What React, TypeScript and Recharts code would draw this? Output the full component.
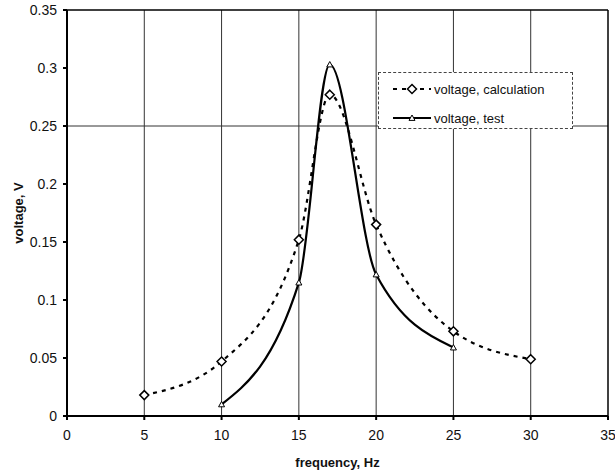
import React from 'react';
import { LineChart, Line, XAxis, YAxis, CartesianGrid, Label, ReferenceLine } from 'recharts';

// frequency (Hz) / voltage (V)
const calcFreq = [5, 10, 15, 17, 20, 25, 30];
const calcVolt = [0.018, 0.047, 0.152, 0.277, 0.165, 0.073, 0.049];
const testFreq = [10, 15, 17, 20, 25];
const testVolt = [0.01, 0.115, 0.303, 0.122, 0.059];

const xTicks = [0, 5, 10, 15, 20, 25, 30, 35];
const yTicks = [0, 0.05, 0.1, 0.15, 0.2, 0.25, 0.3, 0.35];
const seriesNames = ['voltage, calculation', 'voltage, test'];

const calcData = calcFreq.map((f, i) => ({ f, v: calcVolt[i] }));
const testData = testFreq.map((f, i) => ({ f, v: testVolt[i] }));

const FONT = '"Liberation Sans", Arial, sans-serif';

const Diamond = (props: any) => {
  const { cx, cy, index } = props;
  if (cx == null || cy == null) return <g key={index} />;
  const r = 4.5;
  return (
    <polygon
      key={index}
      points={`${cx},${cy - r} ${cx + r},${cy} ${cx},${cy + r} ${cx - r},${cy}`}
      fill="#fff"
      stroke="#000"
      strokeWidth={1.5}
    />
  );
};

const Triangle = (props: any) => {
  const { cx, cy, index } = props;
  if (cx == null || cy == null) return <g key={index} />;
  const r = 3;
  return (
    <polygon
      key={index}
      points={`${cx},${cy - r} ${cx + r},${cy + r * 0.8} ${cx - r},${cy + r * 0.8}`}
      fill="#fff"
      stroke="#000"
      strokeWidth={1}
    />
  );
};

// legend drawn as an overlay so it doesn't eat into the plot area
const LegendBox = () => (
  <div
    style={{
      position: 'absolute',
      left: 378,
      top: 72,
      width: 193,
      height: 55,
      background: '#fff',
      border: '1px dashed #444',
      fontFamily: FONT,
      fontSize: 13,
      color: '#111',
    }}
  >
    <div style={{ display: 'flex', alignItems: 'center', height: 16, marginTop: 8 }}>
      <svg width={40} height={12} style={{ marginLeft: 13 }}>
        <line x1={1} y1={6} x2={39} y2={6} stroke="#000" strokeWidth={2.2} strokeDasharray="4 5" />
        <polygon points="20,1.5 24.5,6 20,10.5 15.5,6" fill="#fff" stroke="#000" strokeWidth={1.5} />
      </svg>
      <span style={{ marginLeft: 2 }}>{seriesNames[0]}</span>
    </div>
    <div style={{ display: 'flex', alignItems: 'center', height: 16, marginTop: 13 }}>
      <svg width={40} height={12} style={{ marginLeft: 13 }}>
        <line x1={1} y1={6} x2={39} y2={6} stroke="#000" strokeWidth={2.2} />
        <polygon points="20,3 23,8.4 17,8.4" fill="#fff" stroke="#000" strokeWidth={1} />
      </svg>
      <span style={{ marginLeft: 2 }}>{seriesNames[1]}</span>
    </div>
  </div>
);

export default function App() {
  return (
    <div style={{ position: 'absolute', left: 0, top: 0, width: 615, height: 475, background: '#fff' }}>
      <LineChart width={615} height={475} margin={{ top: 10, right: 7, bottom: 0, left: 0 }}>
        <CartesianGrid
          horizontalValues={[0.25]}
          verticalValues={[5, 10, 15, 20, 25, 30]}
          stroke="#333"
          strokeWidth={1}
        />
        <XAxis
          type="number"
          dataKey="f"
          domain={[0, 35]}
          ticks={xTicks}
          allowDataOverflow
          height={59}
          tickSize={4}
          tickMargin={10}
          stroke="#000"
          strokeWidth={2}
          tick={{ fill: '#111', fontSize: 14, fontFamily: FONT }}
        >
          <Label
            value="frequency, Hz"
            position="insideBottom"
            offset={8}
            style={{ fontFamily: FONT, fontSize: 13, fontWeight: 'bold', fill: '#111' }}
          />
        </XAxis>
        <YAxis
          type="number"
          dataKey="v"
          domain={[0, 0.35]}
          ticks={yTicks}
          allowDataOverflow
          width={67}
          tickSize={4}
          tickMargin={6}
          stroke="#000"
          strokeWidth={2}
          tickFormatter={(v: number) => String(v)}
          tick={{ fill: '#111', fontSize: 14, fontFamily: FONT }}
        >
          <Label
            content={({ viewBox }: any) => {
              const cy = viewBox.y + viewBox.height / 2;
              return (
                <text
                  x={18}
                  y={cy}
                  transform={`rotate(-90 18 ${cy})`}
                  textAnchor="middle"
                  dominantBaseline="central"
                  style={{ fontFamily: FONT, fontSize: 13, fontWeight: 'bold', fill: '#111' }}
                >
                  voltage, V
                </text>
              );
            }}
          />
        </YAxis>
        <ReferenceLine y={0.35} stroke="#000" strokeWidth={1.5} />
        <ReferenceLine x={35} stroke="#000" strokeWidth={1.5} />
        <Line
          data={calcData}
          dataKey="v"
          name={seriesNames[0]}
          type="monotone"
          stroke="#000"
          strokeWidth={2.2}
          strokeDasharray="4 5"
          dot={Diamond}
          isAnimationActive={false}
        />
        <Line
          data={testData}
          dataKey="v"
          name={seriesNames[1]}
          type="monotone"
          stroke="#000"
          strokeWidth={2.2}
          dot={Triangle}
          isAnimationActive={false}
        />
      </LineChart>
      <LegendBox />
    </div>
  );
}
